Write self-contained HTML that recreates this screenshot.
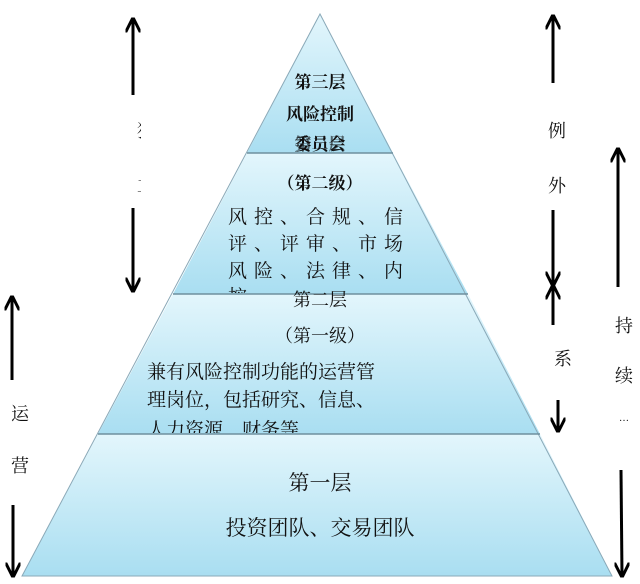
<!DOCTYPE html>
<html><head><meta charset="utf-8"><style>
html,body{margin:0;padding:0;background:#fff;}
svg{display:block;}
text{font-family:"Liberation Serif","Noto Serif CJK SC","Noto Sans CJK SC",serif;fill:#111;}
</style></head><body>
<svg width="640" height="584" viewBox="0 0 640 584" xmlns="http://www.w3.org/2000/svg">
<defs>
<linearGradient id="g" x1="0" y1="0" x2="0" y2="1">
<stop offset="0" stop-color="#e3f6fc"/><stop offset="1" stop-color="#a9def1"/>
</linearGradient>
<marker id="ah" viewBox="0 0 10 10" refX="9" refY="5" markerWidth="5" markerHeight="5" orient="auto-start-reverse">
<path d="M0,0 L10,5 L0,10" fill="none" stroke="#000" stroke-width="2"/>
</marker>
<clipPath id="c1"><rect x="0" y="0" width="141" height="584"/></clipPath>
<clipPath id="c2"><rect x="0" y="0" width="640" height="293"/></clipPath>
<clipPath id="c3"><rect x="0" y="0" width="640" height="433"/></clipPath>
</defs>
<polygon points="320,14 393,153 247,153" fill="url(#g)"/>
<polygon points="247,153 393,153 468,294 173,294" fill="url(#g)"/>
<polygon points="173,294 468,294 540,434 98,434" fill="url(#g)"/>
<polygon points="98,434 540,434 612,576 22,576" fill="url(#g)"/>
<polygon points="320,14 612,576 22,576" fill="none" stroke="#8aa9b8" stroke-width="1"/>
<line x1="247" y1="153" x2="393" y2="153" stroke="#6e8f9e" stroke-width="1.5"/>
<line x1="173" y1="294" x2="468" y2="294" stroke="#6e8f9e" stroke-width="1.5"/>
<line x1="98" y1="434" x2="540" y2="434" stroke="#6e8f9e" stroke-width="1.5"/>
<g font-size="17" text-anchor="middle" font-weight="bold">
<text x="320" y="88">第三层</text>
<text x="320" y="120">风险控制</text>
<text x="320" y="150">委员会</text>
<text x="320" y="150" opacity="0.6">第二层</text>
<text x="320" y="189">（第二级）</text>
</g>
<g font-size="19">
<text x="228" y="223" letter-spacing="7">风控、合规、信</text>
<text x="228" y="250" letter-spacing="7">评、评审、市场</text>
<text x="228" y="277" letter-spacing="7">风险、法律、内</text>
<text x="228" y="303" clip-path="url(#c2)">控</text>
</g>
<g font-size="18" text-anchor="middle">
<text x="320" y="306">第二层</text>
<text x="320" y="342">（第一级）</text>
</g>
<g font-size="19">
<text x="147" y="378">兼有风险控制功能的运营管</text>
<text x="147" y="406">理岗位，包括研究、信息、</text>
<text x="147" y="436" clip-path="url(#c3)">人力资源、财务等</text>
</g>
<g font-size="21" text-anchor="middle">
<text x="320" y="490">第一层</text>
<text x="320" y="535">投资团队、交易团队</text>
</g>
<g stroke="#000" stroke-width="3" fill="none">
<line x1="133" y1="95" x2="133" y2="19" marker-end="url(#ah)"/>
<line x1="133" y1="208" x2="133" y2="291" marker-end="url(#ah)"/>
<line x1="553" y1="83" x2="553" y2="16" marker-end="url(#ah)"/>
<line x1="553" y1="210" x2="553" y2="285" marker-end="url(#ah)"/>
<line x1="553" y1="325" x2="553" y2="286" marker-end="url(#ah)"/>
<line x1="558" y1="400" x2="558" y2="431" marker-end="url(#ah)"/>
<line x1="618" y1="287" x2="618" y2="149" marker-end="url(#ah)"/>
<line x1="621" y1="470" x2="622" y2="576" marker-end="url(#ah)"/>
<line x1="12" y1="380" x2="12" y2="297" marker-end="url(#ah)"/>
<line x1="13" y1="505" x2="13" y2="576" marker-end="url(#ah)"/>
</g>
<g font-size="18" text-anchor="middle">
<g clip-path="url(#c1)"><text x="146" y="137">独</text><text x="146" y="192">立</text></g>
<text x="557" y="137">例</text>
<text x="557" y="192">外</text>
<text x="563" y="365">系</text>
<text x="624" y="332">持</text>
<text x="624" y="382">续</text>
<text x="624" y="421" font-size="10">…</text>
<text x="20" y="420">运</text>
<text x="20" y="472">营</text>
</g>
</svg>
</body></html>
